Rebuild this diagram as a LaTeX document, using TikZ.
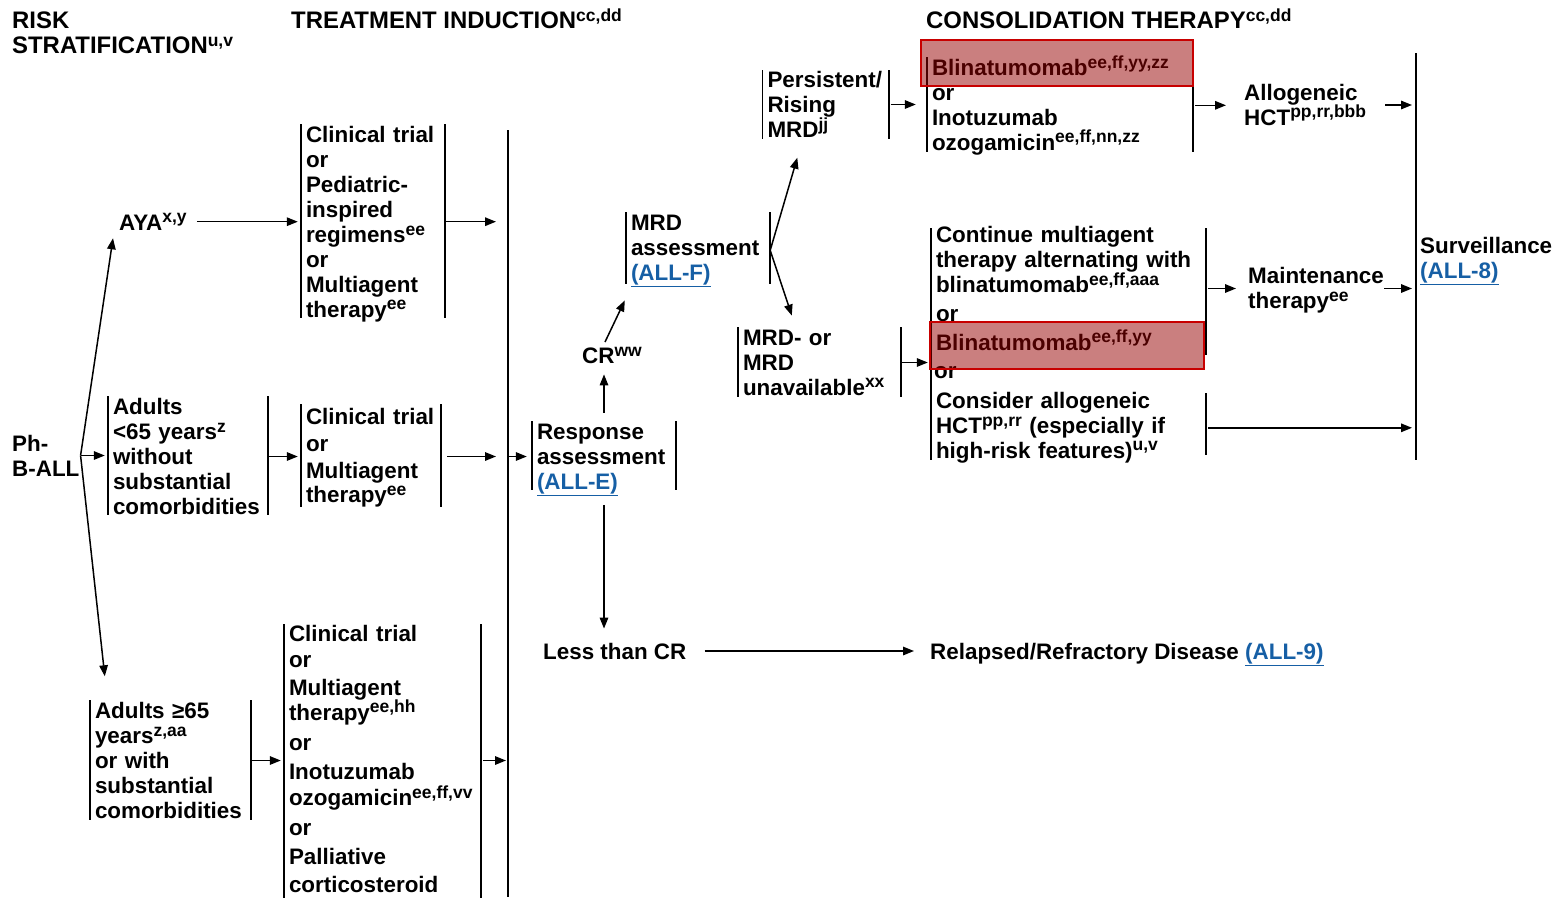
\documentclass[tikz,border=0pt]{standalone}
\usepackage{fontspec}
\setmainfont{Liberation Sans}
\usetikzlibrary{arrows.meta,calc}
\definecolor{linkblue}{RGB}{22,95,165}
\definecolor{hlfill}{RGB}{150,0,0}
\definecolor{hlline}{RGB}{200,0,0}
\newcommand\sps[1]{\raisebox{7.5pt}{\fontsize{17.5}{17.5}\selectfont #1}}
\newcommand\lnk[1]{\textcolor{linkblue}{\smash{\underline{#1}}\vphantom{()}}}
\newcommand\bodyfont{\fontsize{22.4}{24.9}\selectfont\bfseries\lineskiplimit=-30pt\relax}
\newcommand\headfont{\fontsize{23.9}{25}\selectfont\bfseries\lineskiplimit=-30pt\relax}
\tikzset{
  txt/.style={font=\bodyfont, align=left, inner sep=0pt},
  barline/.style={line width=1.6pt, draw=black},
  bxb/.style n args={3}{txt, text width=#1, inner xsep=5pt, inner ysep=0pt,
    append after command={(\tikzlastnode.west |- 0,#2) edge[barline] (\tikzlastnode.west |- 0,#3)
      (\tikzlastnode.east |- 0,#2) edge[barline] (\tikzlastnode.east |- 0,#3)}},
  arr/.style={line width=1.5pt, -{Triangle[length=11pt,width=8.5pt]}, shorten >=3pt},
  ln/.style={line width=1.6pt},
  hl/.style={fill=hlfill, fill opacity=0.5, draw=hlline, line width=1.6pt}
}
\begin{document}
\begin{tikzpicture}[x=1pt,y=-1pt]
\useasboundingbox (0,0) rectangle (1557,897);
% headers
\node[txt, font=\headfont, anchor=west] (hrisk) at (12,33) {RISK\\STRATIFICATION\sps{u,v}};
\node[txt, font=\headfont, anchor=west] (hind) at (291,19) {TREATMENT INDUCTION\sps{cc,dd}};
\node[txt, font=\headfont, anchor=west] (hcons) at (926,19) {CONSOLIDATION THERAPY\sps{cc,dd}};
% risk stratification
\node[txt, anchor=west] (ph) at (12,455.5) {Ph-\\B-ALL};
\node[txt, anchor=west] (aya) at (119,221.7) {AYA\sps{x,y}};
\node[bxb={150pt}{396}{515}] (a64) at (188,456.5) {Adults\\<65 years\sps{z}\\without\\substantial\\comorbidities};
\node[bxb={151pt}{700}{820}] (a65) at (170.5,760.5) {Adults ≥65\\years\sps{z,aa}\\or with\\substantial\\comorbidities};
% induction
\node[bxb={134pt}{124}{318}] (ind1) at (373,224.3) {Clinical trial\\or\\Pediatric-\\inspired\\regimens\sps{ee}\\or\\Multiagent\\therapy\sps{ee}};
\node[bxb={130pt}{404}{507}] (ind2) at (371,457.8) {Clinical trial\\[2pt]or\\[2pt]Multiagent\\therapy\sps{ee}};
\node[bxb={187pt}{624}{905}] (ind3) at (382.5,759) {Clinical trial\\[1pt]or\\[3pt]Multiagent\\therapy\sps{ee,hh}\\[5pt]or\\[5pt]Inotuzumab\\[1pt]ozogamicin\sps{ee,ff,vv}\\[5pt]or\\[4pt]Palliative\\[3pt]corticosteroid};
\coordinate (vtop) at (508,130);
\coordinate (vbot) at (508,897);
\draw[ln] (vtop) -- (vbot);
% response
\node[bxb={134pt}{421}{490}] (resp) at (604,458.8) {Response\\assessment\\\lnk{(ALL-E)}};
\node[txt, anchor=west] (cr) at (582,355.7) {CR\sps{ww}};
\node[txt, anchor=west] (less) at (543,651) {Less than CR};
\node[txt, anchor=west] (relap) at (930,653.3) {Relapsed/Refractory Disease \lnk{(ALL-9)}};
\node[bxb={134pt}{212}{284}] (mrd) at (698,250.3) {MRD\\assessment\\\lnk{(ALL-F)}};
\node[bxb={116pt}{70}{139}] (persist) at (825.5,104.5) {Persistent/\\Rising\\MRD\sps{jj}};
\node[bxb={153pt}{327}{397}] (mrdneg) at (819.5,362.5) {MRD- or\\MRD\\unavailable\sps{xx}};
% consolidation
\node[bxb={256pt}{57}{152}] (blin1) at (1060,105.3) {Blinatumomab\sps{ee,ff,yy,zz}\\or\\Inotuzumab\\ozogamicin\sps{ee,ff,nn,zz}};
\node[txt, anchor=west] (allo) at (1244,105) {Allogeneic\\HCT\sps{pp,rr,bbb}};
\node[bxb={265pt}{228}{355}] (contA) at (1068.5,288.5) {Continue multiagent\\therapy alternating with\\blinatumomab\sps{ee,ff,aaa}\\[4pt]or\\[4pt]Blinatumomab\sps{ee,ff,yy}};
\node[txt, anchor=west] (or2) at (934,373) {or};
\node[bxb={265pt}{393}{455}] (contB) at (1068.5,427.8) {Consider allogeneic\\HCT\sps{pp,rr} (especially if\\high-risk features)\sps{u,v}};
\draw[barline] (contA.west |- 0,355) -- (contB.west |- 0,460);
\node[txt, anchor=west] (maint) at (1248,290.3) {Maintenance\\therapy\sps{ee}};
\coordinate (stop) at (1416,53);
\coordinate (sbot) at (1416,460);
\draw[ln] (stop) -- (sbot);
\node[txt, anchor=west] (surv) at (1420,259.8) {Surveillance\\\lnk{(ALL-8)}};
% connectors
\coordinate (br) at ($(ph.east)+(1,0)$);
\draw[arr, shorten >=0pt] (br) -- ($(aya.south west)+(-6,8)$);
\draw[arr] (br) -- (br -| a64.west);
\draw[arr, shorten >=0pt] (br) -- ($(a65.north west)+(15,-26)$);
\draw[arr] ($(aya.east)+(10,0)$) -- (aya.east -| ind1.west);
\draw[arr] (a64.east) -- (a64.east -| ind2.west);
\draw[arr] (a65.east) -- (a65.east -| ind3.west);
\draw[arr, shorten >=12pt] (aya.east -| ind1.east) -- (aya.east -| vtop);
\draw[arr, shorten <=6pt, shorten >=12pt] (a64.east -| ind2.east) -- (a64.east -| vtop);
\draw[arr, shorten <=2pt, shorten >=2pt] (a65.east -| ind3.east) -- (a65.east -| vtop);
\draw[arr, shorten >=5pt] (vtop |- a64.east) -- (a64.east -| resp.west);
\draw[arr, shorten <=11pt, shorten >=10pt] (resp.north) -- (resp.north |- cr.south);
\draw[arr, shorten >=0pt] ($(cr.north west)+(23,-5)$) -- ($(mrd.south west)+(-1,15)$);
\draw[arr, shorten <=11pt, shorten >=14pt] (resp.south) -- (resp.south |- less.north);
\draw[arr, shorten <=18pt, shorten >=16pt] (less.east) -- (less.east -| relap.west);
\draw[arr, shorten >=0pt] (mrd.east) -- ($(persist.south west)+(35,20)$);
\draw[arr, shorten >=0pt] (mrd.east) -- ($(mrdneg.north west)+(54,-14)$);
\draw[arr, shorten <=2pt, shorten >=11pt] (persist.east) -- (persist.east -| blin1.west);
\draw[arr, shorten >=3pt] (mrdneg.east) -- (mrdneg.east -| contA.west);
\draw[arr, shorten <=2pt, shorten >=18pt] (blin1.east) -- (blin1.east -| allo.west);
\draw[arr, shorten <=19pt, shorten >=4pt] (allo.east) -- (allo.east -| stop);
\draw[arr, shorten <=2pt, shorten >=12pt] (contA.east) -- (contA.east -| maint.west);
\draw[arr, shorten >=4pt] (contA.east -| maint.east) -- (contA.east -| stop);
\draw[arr, shorten <=2pt, shorten >=4pt] (contB.east) -- (contB.east -| stop);
% highlights
\filldraw[hl] ($(blin1.north west)+(-6,-15)$) rectangle ($(blin1.north east)+(0,31)$);
\filldraw[hl] ($(contA.south west)+(-1,-29)$) rectangle ($(contA.south east)+(-2,18)$);
\end{tikzpicture}
\end{document}
